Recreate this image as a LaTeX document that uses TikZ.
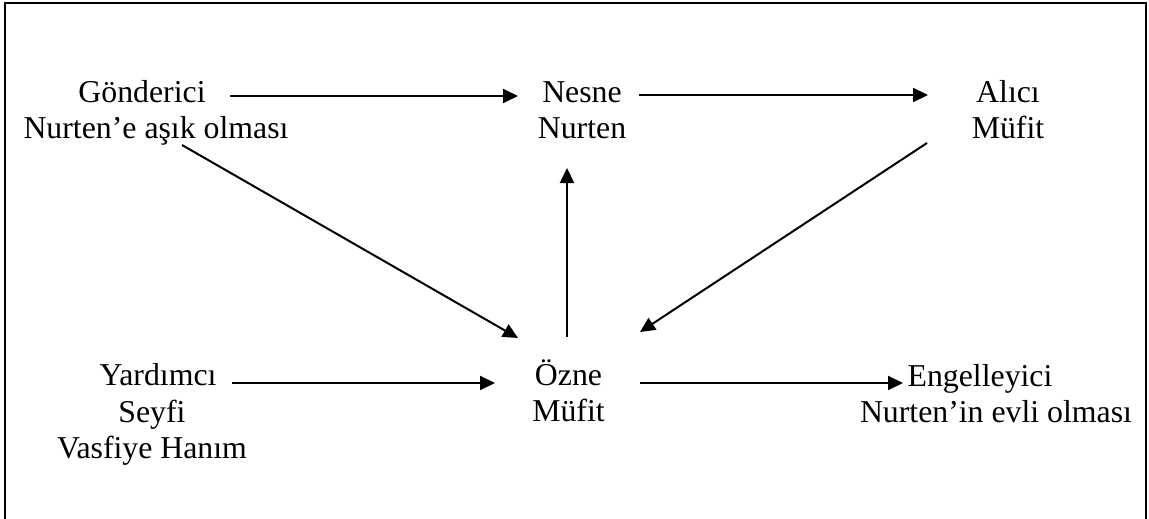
\documentclass[tikz,border=0pt]{standalone}
\usepackage{fontspec}
\setmainfont{Liberation Serif}
\usetikzlibrary{arrows.meta}
\begin{document}
\begin{tikzpicture}[x=1pt,y=-1pt,
  lbl/.style={anchor=north,inner sep=0pt,align=center,
    font=\fontsize{31.8pt}{36.6pt}\selectfont},
  arr/.style={line width=2pt,-{Triangle[length=15pt,width=14pt]}},
  frame/.style={line width=2pt}]
\useasboundingbox (0,0) rectangle (1149,519);
\newcommand{\topstrut}{\rule{0pt}{30pt}}
\draw[frame] (5,519) -- (5,3) -- (1146,3) -- (1146,519);
\node[lbl] (gond) at (156,72) {\topstrut Gönderici\hspace*{28pt}\\Nurten’e aşık olması};
\node[lbl] (nesne) at (582,72) {\topstrut Nesne\\Nurten};
\node[lbl] (alici) at (1008,72) {\topstrut Alıcı\\Müfit};
\node[lbl] (ozne) at (568.5,355) {\topstrut Özne\\Müfit};
\node[lbl] (yard) at (152,355.5) {\topstrut\hspace*{12pt}Yardımcı\\Seyfi\hspace*{26pt}\\Vasfiye Hanım};
\node[lbl] (engel) at (996,356) {\topstrut Engelleyici\hspace*{32pt}\\Nurten’in evli olması};
\draw[arr] ([shift={(74,24)}]gond.north) -- ([shift={(-64,24)}]nesne.north);
\draw[arr] ([shift={(57,23)}]nesne.north) -- ([shift={(-80,23)}]alici.north);
\draw[arr] ([shift={(26,73)}]gond.north) -- ([shift={(-50.5,-17)}]ozne.north);
\draw[arr] ([shift={(-81,71)}]alici.north) -- ([shift={(71.5,-23)}]ozne.north);
\draw[arr] ([shift={(-1.5,-18)}]ozne.north) -- ([shift={(-15,96)}]nesne.north);
\draw[arr] ([shift={(80,27.5)}]yard.north) -- ([shift={(-73.5,28)}]ozne.north);
\draw[arr] ([shift={(71.5,28)}]ozne.north) -- ([shift={(-93,27)}]engel.north);
\end{tikzpicture}
\end{document}
